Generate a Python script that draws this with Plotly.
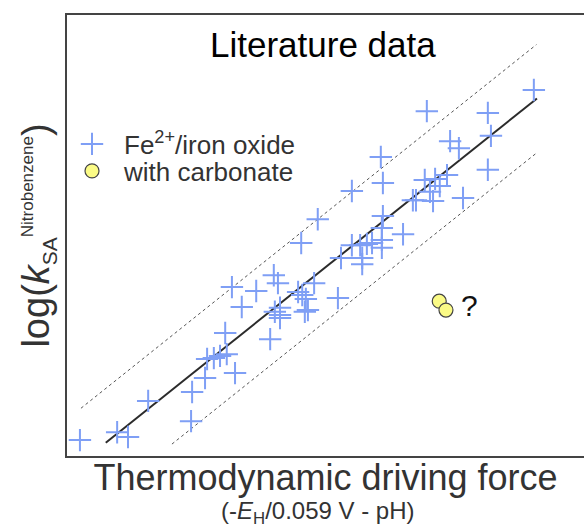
import plotly.graph_objects as go

# Literature data (arbitrary units)
fe_x = [0.25, 0.97, 1.18, 1.57, 2.40, 2.42, 2.67, 2.71, 2.84, 2.96, 3.09, 3.25, 3.06,
        3.38, 3.19, 3.66, 4.00, 4.08, 3.93, 4.12, 4.02, 4.12, 4.12, 4.47, 4.55, 4.62,
        4.60, 4.66, 4.78, 5.24, 4.53, 4.85, 5.51, 5.30, 5.71, 5.71, 5.51, 5.67, 5.80,
        5.90, 6.09, 6.09, 6.09, 6.11, 6.50, 6.69, 6.11, 6.07, 6.96, 6.75, 6.92, 7.12,
        7.21, 7.02, 7.08, 7.35, 7.66, 8.14, 7.41, 7.58, 8.14, 8.20, 9.03]
fe_y = [0.36, 0.54, 0.43, 1.25, 0.79, 1.45, 1.77, 2.20, 2.22, 2.27, 2.31, 1.88, 2.79,
        3.38, 3.83, 3.74, 4.10, 3.92, 2.65, 3.36, 3.27, 3.20, 3.13, 3.72, 3.65, 3.56,
        3.27, 3.31, 3.92, 3.58, 4.83, 5.37, 6.01, 4.49, 4.49, 4.35, 4.78, 4.78, 4.81,
        4.83, 4.90, 4.72, 5.17, 5.44, 5.03, 5.80, 6.19, 6.78, 7.82, 5.80, 6.26, 6.28,
        6.12, 5.99, 5.78, 6.37, 5.85, 6.49, 7.14, 6.98, 7.78, 7.26, 8.30]

carb_x = [7.20, 7.33]
carb_y = [3.51, 3.31]

# Fit line and band
fit_slope = 0.936
fit_intercept = -0.40
band = 1.23
fit_x = [0.75, 9.09]
upper_x = [0.27, 9.08]
lower_x = [2.03, 9.10]

FONT = "Liberation Sans, Arial"

fig = go.Figure()

def line_y(xs, off):
    return [fit_slope * v + fit_intercept + off for v in xs]

fig.add_trace(go.Scatter(x=upper_x, y=line_y(upper_x, band), mode="lines",
                         line=dict(color="#555555", width=1, dash="dot"),
                         showlegend=False, hoverinfo="skip"))
fig.add_trace(go.Scatter(x=lower_x, y=line_y(lower_x, -band), mode="lines",
                         line=dict(color="#555555", width=1, dash="dot"),
                         showlegend=False, hoverinfo="skip"))
fig.add_trace(go.Scatter(x=fit_x, y=line_y(fit_x, 0), mode="lines",
                         line=dict(color="#2b2b2b", width=2),
                         showlegend=False, hoverinfo="skip"))

fig.add_trace(go.Scatter(x=fe_x, y=fe_y, mode="markers", name="Fe<sup>2+</sup>/iron oxide",
                         marker=dict(symbol="cross-thin", size=16,
                                     line=dict(color="#7f9ff5", width=2)),
                         legend="legend"))
fig.add_trace(go.Scatter(x=carb_x, y=carb_y, mode="markers", name="with carbonate",
                         marker=dict(symbol="circle", size=14, color="#fbfb86",
                                     line=dict(color="#444444", width=1.2)),
                         legend="legend2"))

fig.add_annotation(x=7.78, y=3.42, xref="x", yref="y", text="?", showarrow=False,
                   font=dict(size=30, color="#111111", family=FONT))
fig.add_annotation(x=(323 - 67) / 517, y=(456 - 44) / 441, xref="paper", yref="paper",
                   xanchor="center", yanchor="middle",
                   text="Literature data", showarrow=False,
                   font=dict(size=35, color="#000000", family=FONT))
fig.add_annotation(x=(318 - 67) / 517, y=-(512 - 456) / 441, xref="paper", yref="paper",
                   xanchor="center", yanchor="middle",
                   text="(-<i>E</i><sub>H</sub>/0.059 V - pH)", showarrow=False,
                   font=dict(size=24, color="#333333", family=FONT))

leg_common = dict(bgcolor="rgba(0,0,0,0)", borderwidth=0, xanchor="left", yanchor="middle",
                  font=dict(size=26, color="#333333", family=FONT),
                  itemwidth=54)
fig.update_layout(
    width=584, height=527,
    margin=dict(l=67, r=0, t=15, b=71),
    paper_bgcolor="white", plot_bgcolor="white",
    font=dict(family=FONT, color="#333333"),
    legend=dict(x=-7 / 517, y=(456 - 144) / 441, **leg_common),
    legend2=dict(x=-7 / 517, y=(456 - 171) / 441, **leg_common),
    xaxis=dict(range=[0, 10], showgrid=False, zeroline=False, showticklabels=False,
               ticks="", showline=True, linecolor="#444444", linewidth=2, mirror=True,
               title=dict(text="Thermodynamic driving force", standoff=8,
                          font=dict(size=36, color="#333333"))),
    yaxis=dict(range=[0, 10], showgrid=False, zeroline=False, showticklabels=False,
               ticks="", showline=True, linecolor="#444444", linewidth=2,
               title=dict(text="log(<i>k</i><sub><span style='font-size:21px'>SA</span></sub>"
                               "<sup><span style='font-size:17px'>Nitrobenzene</span></sup>)",
                          standoff=4, font=dict(size=38, color="#333333"))),
)

fig.write_html("out.html")
